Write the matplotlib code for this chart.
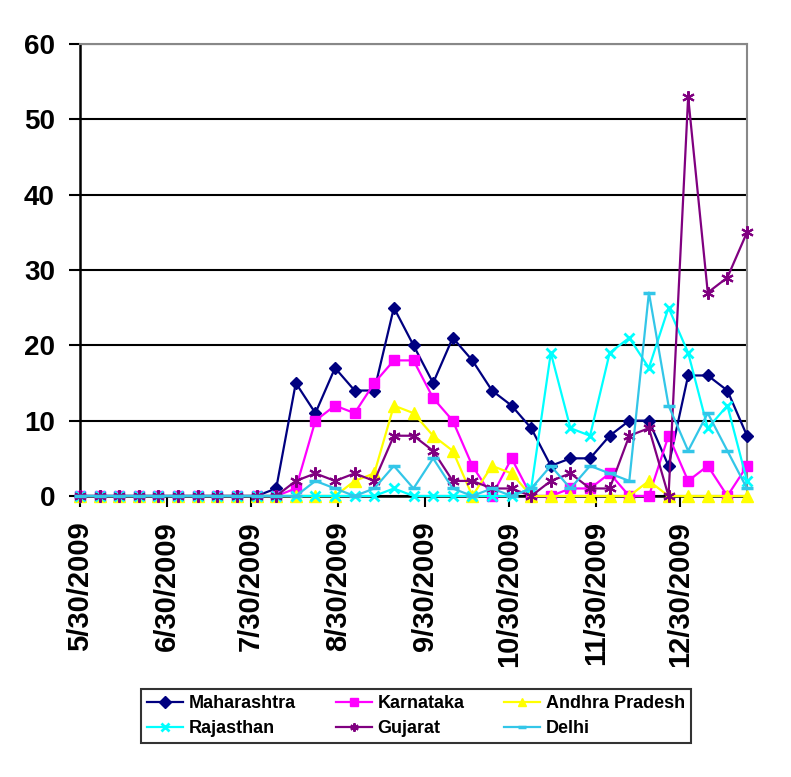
import datetime as dt
import matplotlib
matplotlib.use("Agg")
import matplotlib.pyplot as plt

plt.rcParams['font.family'] = ['Liberation Sans', 'DejaVu Sans']
plt.rcParams['font.weight'] = 'bold'

# weekly reports from 5/30/2009
start = dt.date(2009, 5, 30)
n_weeks = 35
dates = [start + dt.timedelta(days=7 * i) for i in range(n_weeks)]

maharashtra = [0, 0, 0, 0, 0, 0, 0, 0, 0, 0, 1, 15, 11, 17, 14, 14, 25, 20, 15, 21,
               18, 14, 12, 9, 4, 5, 5, 8, 10, 10, 4, 16, 16, 14, 8]
karnataka = [0, 0, 0, 0, 0, 0, 0, 0, 0, 0, 0, 1, 10, 12, 11, 15, 18, 18, 13, 10,
             4, 0, 5, 0, 0, 1, 1, 3, 0, 0, 8, 2, 4, 0, 4]
andhra = [0, 0, 0, 0, 0, 0, 0, 0, 0, 0, 0, 0, 0, 0, 2, 3, 12, 11, 8, 6,
          0, 4, 3, 0, 0, 0, 0, 0, 0, 2, 0, 0, 0, 0, 0]
rajasthan = [0, 0, 0, 0, 0, 0, 0, 0, 0, 0, 0, 0, 0, 0, 0, 0, 1, 0, 0, 0,
             0, 0, 0, 1, 19, 9, 8, 19, 21, 17, 25, 19, 9, 12, 2]
gujarat = [0, 0, 0, 0, 0, 0, 0, 0, 0, 0, 0, 2, 3, 2, 3, 2, 8, 8, 6, 2,
           2, 1, 1, 0, 2, 3, 1, 1, 8, 9, 0, 53, 27, 29, 35]
delhi = [0, 0, 0, 0, 0, 0, 0, 0, 0, 0, 0, 0, 2, 1, 0, 1, 4, 1, 5, 1,
         0, 1, 0, 1, 4, 1, 4, 3, 2, 27, 12, 6, 11, 6, 1]

tick_dates = [dt.date(2009, m, 30) for m in range(5, 13)]
tick_labels = ['5/30/2009', '6/30/2009', '7/30/2009', '8/30/2009',
               '9/30/2009', '10/30/2009', '11/30/2009', '12/30/2009']

fig = plt.figure(figsize=(7.91, 7.77), dpi=100)
ax = fig.add_axes([80 / 791, 1 - 496 / 777, (747 - 80) / 791, (496 - 44) / 777])

series = [
    ('Maharashtra', maharashtra, '#000080', dict(marker='D', ms=6)),
    ('Karnataka', karnataka, '#FF00FF', dict(marker='s', ms=7)),
    ('Andhra Pradesh', andhra, '#FFFF00', dict(marker='^', ms=8)),
    ('Rajasthan', rajasthan, '#00FFFF', dict(marker='x', ms=7, mew=2)),
    ('Gujarat', gujarat, '#800080', dict(marker=(6, 2, 0), ms=9, mew=1.5)),
    ('Delhi', delhi, '#33C6E8', dict(marker='_', ms=9, mew=2.5)),
]
handles = {}
for name, vals, col, mk in series:
    ln, = ax.plot(dates, vals, color=col, lw=1.6, label=name, mfc=col, mec=col, **mk,
                  zorder=3, clip_on=False)
    handles[name] = ln

ax.set_xlim(dates[0], dates[-1])
ax.set_ylim(0, 60)
ax.set_yticks(range(0, 61, 10))
ax.yaxis.grid(True, color='black', lw=1.5)
ax.set_axisbelow(True)

ax.set_xticks(tick_dates)
ax.set_xticklabels(tick_labels, rotation=90, fontsize=21, fontweight='bold')
for lab in ax.get_yticklabels():
    lab.set_fontsize(20)
    lab.set_fontweight('bold')

ax.tick_params(axis='both', direction='out', length=8, width=1.5, color='black')
ax.tick_params(axis='x', pad=10)
ax.tick_params(axis='y', pad=10)

for side in ['top', 'right']:
    ax.spines[side].set_color('#888888')
    ax.spines[side].set_linewidth(1.5)
for side in ['left', 'bottom']:
    ax.spines[side].set_color('black')
    ax.spines[side].set_linewidth(1.8)

# legend filled row by row like the original
order = ['Maharashtra', 'Rajasthan', 'Karnataka', 'Gujarat', 'Andhra Pradesh', 'Delhi']
leg = fig.legend([handles[k] for k in order], order, loc='center',
                 bbox_to_anchor=(416 / 791, 1 - 716 / 777), ncol=3,
                 prop={'size': 13, 'weight': 'bold'}, frameon=True, fancybox=False,
                 edgecolor='black', handlelength=2.0, handletextpad=0.3,
                 columnspacing=2.2, borderpad=0.35, labelspacing=0.45)
leg.get_frame().set_linewidth(1.5)
for line in leg.get_lines():
    line.set_markersize(6)

fig.savefig('out.png', dpi=100)
